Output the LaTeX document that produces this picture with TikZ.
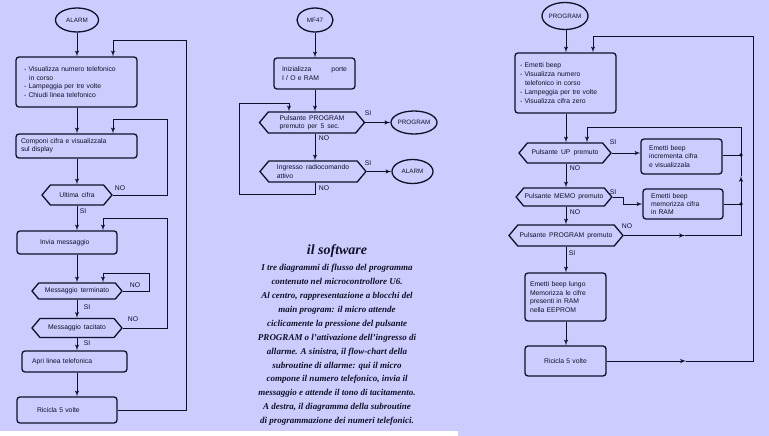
\documentclass[tikz,border=0pt]{standalone}
\usepackage{fontspec}
\usepackage{tikz}
\usetikzlibrary{shapes,arrows}
\setmainfont{Liberation Serif}
\newfontfamily\chartfont[WordSpace=1.6]{Liberation Sans}
\definecolor{sheet}{RGB}{204,204,255}
\definecolor{ink}{RGB}{16,16,40}
\tikzstyle{block} = [draw=ink, line width=1.3pt, rounded corners=3pt, inner xsep=8pt,
    align=left, text=ink, font=\chartfont\fontsize{6.8}{8.4}\selectfont]
\tikzstyle{decision} = [draw=ink, line width=1.3pt, signal, signal to=west and east,
    signal pointer angle=100, inner sep=1pt, align=center, text=ink,
    font=\chartfont\fontsize{6.8}{8.4}\selectfont]
\tikzstyle{terminal} = [draw=ink, ellipse, line width=1.3pt, inner sep=0pt, text=ink,
    font=\chartfont\fontsize{6.3}{8.4}\selectfont]
\tikzstyle{lbl} = [inner sep=0pt, text=ink, font=\chartfont\fontsize{6.8}{8.4}\selectfont]
\tikzset{
  line/.style ={draw=ink, line width=1pt, -latex'},
  wire/.style ={draw=ink, line width=1pt}
}

\begin{document}
\begin{tikzpicture}[x=1pt,y=-1pt]
  \useasboundingbox (0,0) rectangle (769,436);
  \fill[sheet] (0,0) rectangle (769,436);
  \fill[white] (0,431) rectangle (458,436);

  % alarm subroutine
  \node[terminal, minimum width=43pt, minimum height=24pt] (alarmA) at (77,20) {ALARM};
  \node[block, text width=105pt, inner xsep=8pt, minimum height=50pt] (showA) at (76.5,82)
    {- Visualizza numero telefonico\\\hspace*{5pt}in corso\\- Lampeggia per tre volte\\- Chiudi linea telefonico};
  \node[block, text width=111pt, inner xsep=5pt, minimum height=24pt] (dialA) at (76.5,146)
    {Componi cifra e visualizzala\\sul display};
  \node[decision, minimum width=70pt, minimum height=20pt] (lastA) at (77,195) {Ultima cifra};
  \node[block, text width=54pt, inner xsep=23pt, minimum height=23pt] (sendA) at (67,242.5) {Invia messaggio};
  \node[decision, minimum width=90pt, minimum height=16pt] (endA) at (77,291) {Messaggio terminato};
  \node[decision, minimum width=90pt, minimum height=19pt] (muteA) at (77,328) {Messaggio tacitato};
  \node[block, text width=85pt, inner xsep=10pt, minimum height=21pt] (lineA) at (74.5,361.5) {Apri linea telefonica};
  \node[block, text width=60pt, inner xsep=20pt, minimum height=26pt] (loopA) at (67,410) {Ricicla 5 volte};

  \coordinate (backA) at (186,41);
  \coordinate (topA) at (113,41);
  \coordinate (digitA) at (167,119);
  \coordinate (digitinA) at (113,119);
  \coordinate (muteupA) at (167,218);
  \coordinate (sendinA) at (103,218);
  \coordinate (waitA) at (149,273);
  \coordinate (waitinA) at (103,273);

  \path[line] (alarmA) -- (showA.north -| alarmA);
  \path[line] (showA.south -| alarmA) -- (dialA.north -| alarmA);
  \path[line] (dialA.south -| alarmA) -- (lastA.north -| alarmA);
  \path[line] (lastA.south -| alarmA) -- (sendA.north -| alarmA);
  \path[line] (sendA.south -| alarmA) -- (endA.north -| alarmA);
  \path[line] (endA.south) -- (muteA.north);
  \path[line] (muteA.south) -- (lineA.north -| muteA);
  \path[line] (lineA.south -| muteA) -- (loopA.north -| muteA);
  \path[line] (loopA.east) -| (backA) -- (topA) -- (topA |- showA.north);
  \path[line] (lastA.east) -| (digitA) -- (digitinA) -- (digitinA |- dialA.north);
  \path[line] (muteA.east) -| (muteupA) -- (sendinA) -- (sendinA |- sendA.north);
  \path[line] (endA.east) -| (waitA) -- (waitinA) -- (waitinA |- endA.north);

  \node[lbl] (noA1) at (120,188) {NO};
  \node[lbl] (siA1) at (83,211) {SI};
  \node[lbl] (noA2) at (135,285) {NO};
  \node[lbl] (siA2) at (87,307) {SI};
  \node[lbl] (noA3) at (133,319) {NO};
  \node[lbl] (siA3) at (87,343) {SI};

  % main program
  \node[terminal, minimum width=36pt, minimum height=24pt] (mainM) at (315,20) {MF47};
  \node[block, text width=65pt, minimum height=31pt] (initM) at (314.5,73.5)
    {Inizializza \hfill porte\\I / O e RAM};
  \node[decision, minimum width=105pt, minimum height=21pt, align=left] (progM) at (312,122.5)
    {Pulsante PROGRAM\\premuto per 5 sec.};
  \node[decision, minimum width=106pt, minimum height=21pt, align=left] (radioM) at (313,171.5)
    {Ingresso radiocomando\\attivo};
  \node[terminal, minimum width=44pt, minimum height=23pt] (progcallM) at (414,122.5) {PROGRAM};
  \node[terminal, minimum width=41pt, minimum height=24pt] (alarmcallM) at (412.5,171.5) {ALARM};

  \coordinate (axisM) at (315,0);
  \coordinate (retM) at (239,194);
  \coordinate (retinM) at (289,104);

  \path[line] (mainM) -- (initM.north -| axisM);
  \path[line] (initM.south -| axisM) -- (progM.north -| axisM);
  \path[line] (progM.south -| axisM) -- (radioM.north -| axisM);
  \path[line] (progM.east) -- (progcallM.west);
  \path[line] (radioM.east) -- (alarmcallM.west);
  \path[line] (radioM.south -| axisM) |- (retM) |- (retinM) -- (retinM |- progM.north);

  \node[lbl] (siM1) at (368,113) {SI};
  \node[lbl] (noM1) at (324,138) {NO};
  \node[lbl] (siM2) at (368,163) {SI};
  \node[lbl] (noM2) at (324,188) {NO};

  % caption
  \node[text=ink, font=\bfseries\itshape\fontsize{14}{16}\selectfont] (titleT) at (337,251) {il software};
  \node[text=ink, align=center, font=\bfseries\itshape\fontsize{9}{13.9}\selectfont] (bodyT) at (337,345)
    {I tre diagrammi di flusso del programma\\
     contenuto nel microcontrollore U6.\\
     Al centro, rappresentazione a blocchi del\\
     main program: il micro attende\\
     ciclicamente la pressione del pulsante\\
     PROGRAM o l’attivazione dell’ingresso di\\
     allarme. A sinistra, il flow-chart della\\
     subroutine di allarme: qui il micro\\
     compone il numero telefonico, invia il\\
     messaggio e attende il tono di tacitamento.\\
     A destra, il diagramma della subroutine\\
     di programmazione dei numeri telefonici.};

  % program subroutine
  \node[terminal, minimum width=44pt, minimum height=27pt] (progR) at (565,16) {PROGRAM};
  \node[block, text width=91pt, inner xsep=5pt, minimum height=60pt, font=\chartfont\fontsize{6.8}{9}\selectfont] (showR) at (565.5,83)
    {- Emetti beep\\- Visualizza numero\\\hspace*{5pt}telefonico in corso\\- Lampeggia per tre volte\\- Visualizza cifra zero};
  \node[decision, minimum width=92pt, minimum height=20pt] (upR) at (565,153) {Pulsante UP premuto};
  \node[block, text width=65pt, inner xsep=8pt, minimum height=35pt] (incR) at (681.5,156.5)
    {Emetti beep\\incrementa cifra\\e visualizzala};
  \node[decision, minimum width=90pt, minimum height=18pt] (memoR) at (564,197) {Pulsante MEMO premuto};
  \node[block, text width=64pt, minimum height=30pt] (storeR) at (683,204)
    {Emetti beep\\memorizza cifra\\in RAM};
  \node[decision, minimum width=114pt, minimum height=21pt] (saveR) at (566,235.5) {Pulsante PROGRAM premuto};
  \node[block, text width=71pt, inner xsep=5pt, minimum height=48pt] (longR) at (565.5,297)
    {Emetti beep lungo\\Memorizza le cifre\\presenti in RAM\\nella EEPROM};
  \node[block, text width=71pt, inner xsep=5pt, minimum height=30pt, align=center] (againR) at (565.5,361) {Ricicla 5 volte};

  \coordinate (axisR) at (566,0);
  \coordinate (bendR) at (623,204);
  \coordinate (joinincR) at (741,155);
  \coordinate (joinstoreR) at (741,204);
  \coordinate (joinnoR) at (741,235.5);
  \coordinate (midnoR) at (685,235.5);
  \coordinate (midupR) at (741,176);
  \coordinate (cornerR) at (741,127);
  \coordinate (upinR) at (587,127);
  \coordinate (midbackR) at (686,361);
  \coordinate (backR) at (753,37);
  \coordinate (showinR) at (593,37);

  \path[line] (progR.south -| axisR) -- (showR.north -| axisR);
  \path[line] (showR.south -| axisR) -- (upR.north -| axisR);
  \path[line] (upR.south -| axisR) -- (memoR.north -| axisR);
  \path[line] (memoR.south -| axisR) -- (saveR.north -| axisR);
  \path[line] (saveR.south -| axisR) -- (longR.north -| axisR);
  \path[line] (longR.south -| axisR) -- (againR.north -| axisR);
  \path[line] (upR.east) -- (incR.west |- upR.east);
  \path[line] (memoR.east) -| (bendR) -- (storeR.west |- bendR);
  \path[wire] (incR.east |- joinincR) -- (joinincR);
  \path[wire] (storeR.east |- joinstoreR) -- (joinstoreR);
  \path[line] (saveR.east) -- (midnoR);
  \path[wire] (midnoR) -- (joinnoR);
  \path[line] (joinnoR) -- (midupR);
  \path[line] (midupR) -- (cornerR) -- (upinR) -- (upinR |- upR.north);
  \path[line] (againR.east) -- (midbackR);
  \path[line] (midbackR) -| (backR) -- (showinR) -- (showinR |- showR.north);
  \fill[ink] (joinincR) circle (1.8pt);
  \fill[ink] (joinstoreR) circle (1.8pt);

  \node[lbl] (siR1) at (613,142) {SI};
  \node[lbl] (noR1) at (575,168) {NO};
  \node[lbl] (siR2) at (613,192) {SI};
  \node[lbl] (noR2) at (575,212) {NO};
  \node[lbl] (noR3) at (627,226) {NO};
  \node[lbl] (siR3) at (572,253) {SI};
\end{tikzpicture}
\end{document}
